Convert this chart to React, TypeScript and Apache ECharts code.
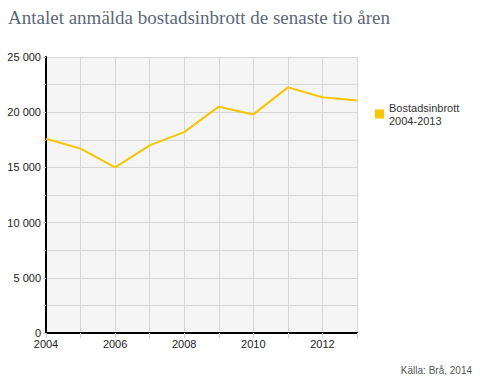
import React, { useEffect, useRef } from "react";
import * as echarts from "echarts";

const years = [2004, 2005, 2006, 2007, 2008, 2009, 2010, 2011, 2012, 2013];
const burglaries = [17600, 16700, 15000, 17000, 18200, 20500, 19800, 22250, 21350, 21050];
const seriesName = "Bostadsinbrott\n2004-2013";
const titleText = "Antalet anmälda bostadsinbrott de senaste tio åren";
const sourceText = "Källa: Brå, 2014";

const fmtThousands = (v: number) =>
  String(v).replace(/\B(?=(\d{3})+(?!\d))/g, " ");

export default function App() {
  const ref = useRef<HTMLDivElement>(null);
  useEffect(() => {
    if (!ref.current) return;
    const chart = echarts.init(ref.current, undefined, { renderer: "svg" });
    chart.setOption({
      animation: false,
      backgroundColor: "#ffffff",
      title: {
        text: titleText,
        left: 3,
        top: 3,
        textStyle: {
          fontFamily: "Liberation Serif",
          fontSize: 19,
          fontWeight: "normal",
          color: "#5b6878",
        },
      },
      legend: {
        orient: "vertical",
        left: 370,
        top: 96,
        itemWidth: 9,
        itemHeight: 9,
        icon: "rect",
        itemGap: 6,
        textStyle: {
          fontFamily: "Liberation Sans",
          fontSize: 11,
          color: "#333",
          lineHeight: 13,
        },
        data: [seriesName],
      },
      graphic: [
        {
          type: "text",
          right: 8,
          top: 365,
          style: {
            text: sourceText,
            font: "10px Liberation Sans",
            fill: "#555",
          },
        },
      ],
      grid: {
        left: 46,
        right: 123,
        top: 57,
        bottom: 50,
        show: true,
        backgroundColor: "#f5f5f5",
        borderWidth: 0,
      },
      xAxis: {
        type: "value",
        min: 2004,
        max: 2013,
        interval: 1,
        axisLine: { show: true, lineStyle: { color: "#000", width: 2 } },
        axisTick: { show: true, length: 5, lineStyle: { color: "#ccc" } },
        splitLine: { show: true, lineStyle: { color: "#d6d6d6", width: 1 } },
        axisLabel: {
          formatter: (v: number) => (v % 2 === 0 && v < 2013 ? String(v) : ""),
          fontFamily: "Liberation Sans",
          fontSize: 11,
          color: "#222",
          margin: 5,
        },
      },
      yAxis: {
        type: "value",
        min: 0,
        max: 25000,
        interval: 2500,
        axisLine: { show: true, lineStyle: { color: "#000", width: 2 } },
        axisTick: { show: true, length: 3, lineStyle: { color: "#ccc" } },
        splitLine: { show: true, lineStyle: { color: "#d6d6d6", width: 1 } },
        axisLabel: {
          formatter: (v: number) => (v % 5000 === 0 ? fmtThousands(v) : ""),
          fontFamily: "Liberation Sans",
          fontSize: 11,
          color: "#222",
          margin: 5,
        },
      },
      series: [
        {
          name: seriesName,
          type: "line",
          data: years.map((y, i) => [y, burglaries[i]]),
          showSymbol: false,
          symbol: "none",
          lineStyle: { color: "#f7c600", width: 2 },
          itemStyle: { color: "#f7c600" },
        },
      ],
    });
    return () => chart.dispose();
  }, []);
  return (
    <div
      ref={ref}
      style={{ position: "fixed", left: 0, top: 0, width: 480, height: 383 }}
    />
  );
}
